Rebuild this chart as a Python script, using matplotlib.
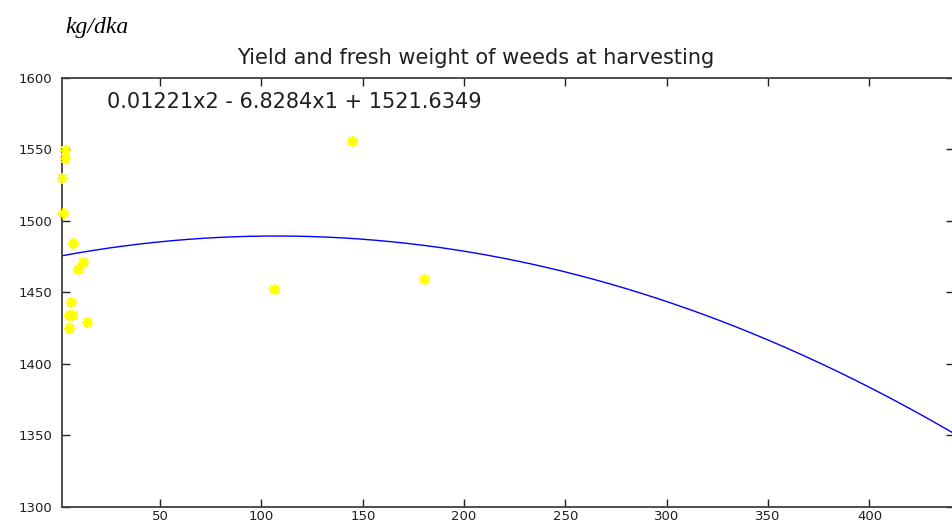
import numpy as np
import matplotlib
matplotlib.use("Agg")
import matplotlib.pyplot as plt

# Weed fresh weight (x) vs yield (y, kg/dka)
weed_weight = [3.1, 3.1, 1.6, 2.1, 6.9, 11.8, 9.4, 5.9, 5.2, 6.6, 13.8, 5.1,
               144.8, 106.2, 180.1]
yield_kg = [1549.7, 1544.1, 1530.1, 1505.6, 1484.8, 1471.5, 1466.6, 1443.4,
            1434.5, 1434.5, 1429.2, 1425.0, 1555.7, 1452.2, 1459.2]

# quadratic trend line coefficients (highest power first)
fit_coeffs = [-0.001235, 0.26503, 1475.28]

x_ticks = [50, 100, 150, 200, 250, 300, 350, 400]
y_ticks = [1300, 1350, 1400, 1450, 1500, 1550, 1600]

title = "Yield and fresh weight of weeds at harvesting"
equation = "0.01221x2 - 6.8284x1 + 1521.6349"
unit_label = "kg/dka"

W, H = 953, 523
fig = plt.figure(figsize=(W / 100, H / 100), dpi=100)
fig.patch.set_facecolor("white")

l, r, t, b = 62, 954, 78, 507
ax = fig.add_axes([l / W, (H - b) / H, (r - l) / W, (b - t) / H])

xlim = (1.6, 441.7)
ylim = (1300, 1600)

xs = np.linspace(xlim[0], xlim[1], 400)
ax.plot(xs, np.polyval(fit_coeffs, xs), color="#0000FF", lw=1.0, zorder=2)
ax.plot(weed_weight, yield_kg, linestyle="none", marker=(8, 2, 0),
        markersize=8, markeredgewidth=1.3, color="#FFFF00", zorder=3,
        clip_on=False)

ax.set_xlim(*xlim)
ax.set_ylim(*ylim)
ax.set_xticks(x_ticks)
ax.set_yticks(y_ticks)
ax.set_xticklabels([str(v) for v in x_ticks])
ax.set_yticklabels([str(v) for v in y_ticks])

for s in ["left", "bottom", "top"]:
    ax.spines[s].set_color("#404040")
    ax.spines[s].set_linewidth(1.3)
ax.spines["right"].set_visible(False)

ax.tick_params(direction="in", length=6, width=1, color="#202020",
               top=True, right=True, labelsize=9.5, labelcolor="#202020")
ax.tick_params(axis="y", pad=7)
ax.tick_params(axis="x", pad=2.5)
for lab in ax.get_xticklabels() + ax.get_yticklabels():
    lab.set_family("DejaVu Sans")

fig.text(476 / W, 1 - 64 / H, title, ha="center", va="baseline",
         fontsize=15, family="DejaVu Sans", color="#202020")
fig.text(107 / W, 1 - 108 / H, equation, ha="left", va="baseline",
         fontsize=15, family="DejaVu Sans", color="#202020")
fig.text(65 / W, 1 - 33 / H, unit_label, ha="left", va="baseline",
         fontsize=17, family="Liberation Serif", style="italic", color="black")

fig.savefig("out.png", dpi=100, facecolor="white")
